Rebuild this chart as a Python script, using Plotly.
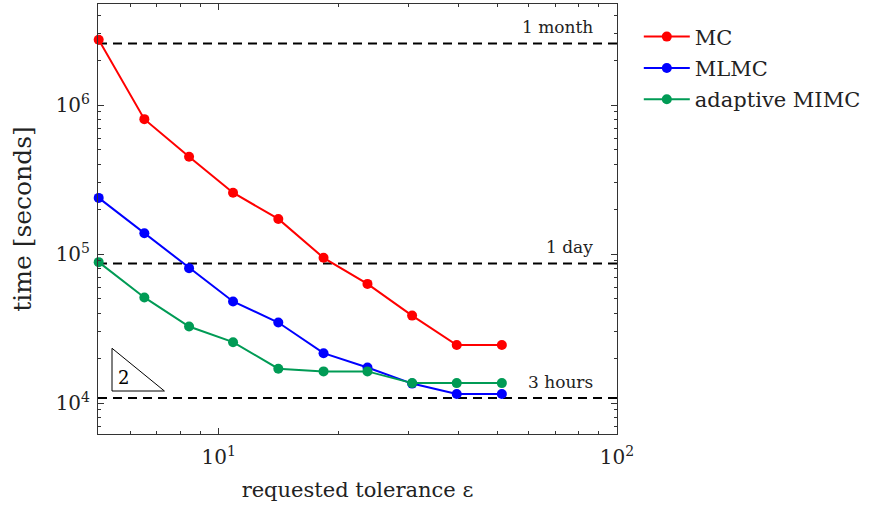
import math
import plotly.graph_objects as go

# ---- data ----
tolerance = [5.0, 6.51, 8.43, 10.87, 14.12, 18.34, 23.64, 30.6, 39.6, 51.4]
time_mc = [2.74e6, 8.04e5, 4.49e5, 2.58e5, 1.72e5, 9.43e4, 6.30e4, 3.86e4, 2.45e4, 2.45e4]
time_mlmc = [2.38e5, 1.38e5, 8.04e4, 4.80e4, 3.47e4, 2.16e4, 1.73e4, 1.35e4, 1.15e4, 1.15e4]
time_mimc = [8.82e4, 5.11e4, 3.26e4, 2.56e4, 1.70e4, 1.63e4, 1.63e4, 1.36e4, 1.36e4, 1.36e4]

series_names = ["MC", "MLMC", "adaptive MIMC"]
series_colors = ["#ff0000", "#0000ff", "#009b55"]

threshold_values = [2592000, 86400, 10800]
threshold_labels = ["1 month", "1 day", "3 hours"]

triangle_x = [5.40, 5.40, 7.31, 5.40]
triangle_y = [2.33e4, 1.204e4, 1.204e4, 2.33e4]
triangle_label = "2"
triangle_label_x = [5.78]
triangle_label_y = [1.43e4]

x_tickvals = [10, 100]
x_ticktext = ["10<sup>1</sup>", "10<sup>2</sup>"]
y_tickvals = [1e4, 1e5, 1e6]
y_ticktext = ["10<sup>4</sup>", "10<sup>5</sup>", "10<sup>6</sup>"]

FONT = "DejaVu Serif"

fig = go.Figure()
for name, color, vals in zip(series_names, series_colors, [time_mc, time_mlmc, time_mimc]):
    fig.add_trace(go.Scatter(
        x=tolerance, y=vals, name=name, mode="lines+markers",
        line=dict(color=color, width=2),
        marker=dict(color=color, size=10, symbol="circle"),
        cliponaxis=False, legendgroup=name,
    ))

fig.add_trace(go.Scatter(
    x=triangle_x, y=triangle_y, mode="lines",
    line=dict(color="black", width=1), showlegend=False, hoverinfo="skip",
))
fig.add_trace(go.Scatter(
    x=triangle_label_x, y=triangle_label_y, mode="text", text=[triangle_label],
    textfont=dict(family=FONT, size=18, color="black"), showlegend=False,
))

for val, lab in zip(threshold_values, threshold_labels):
    fig.add_shape(type="line", xref="paper", x0=0, x1=1, yref="y", y0=val, y1=val,
                  line=dict(color="black", width=2, dash="9px,6px"), layer="below")
    fig.add_annotation(xref="paper", x=0.9576, xanchor="right", yref="y",
                       y=math.log10(val), yanchor="middle", yshift=16,
                       text=lab, showarrow=False,
                       font=dict(family=FONT, size=17, color="#222"))

def minor_vals(lo, hi):
    return [m * 10 ** e for e in range(lo, hi) for m in range(2, 10)]

axis_common = dict(
    type="log", showgrid=False, zeroline=False, showline=True,
    linecolor="#333", linewidth=1, mirror="allticks",
    ticks="inside", ticklen=6, tickwidth=1, tickcolor="#333",
    tickfont=dict(family=FONT, size=20, color="#222"),
)

fig.update_xaxes(
    **axis_common, range=[math.log10(4.98), 2],
    tickmode="array", tickvals=x_tickvals, ticktext=x_ticktext,
    ticklabelstandoff=5,
    minor=dict(ticks="inside", ticklen=3, tickcolor="#333", tickmode="array",
               tickvals=minor_vals(0, 2), showgrid=False),
    title=dict(text="requested tolerance ε", font=dict(family=FONT, size=21, color="#222"),
               standoff=14),
)
fig.update_yaxes(
    **axis_common, range=[3.792, 6.678],
    tickmode="array", tickvals=y_tickvals, ticktext=y_ticktext,
    ticklabelstandoff=3,
    minor=dict(ticks="inside", ticklen=3, tickcolor="#333", tickmode="array",
               tickvals=minor_vals(3, 7), showgrid=False),
    title=dict(text="time [seconds]", font=dict(family=FONT, size=25, color="#222"),
               standoff=16),
)

fig.update_layout(
    width=876, height=507,
    margin=dict(l=98, r=259, t=4, b=73),
    paper_bgcolor="white", plot_bgcolor="white",
    showlegend=True,
    legend=dict(x=1.042, y=0.971, xanchor="left", yanchor="top",
                font=dict(family=FONT, size=21, color="#222"),
                bgcolor="rgba(0,0,0,0)", borderwidth=0,
                traceorder="grouped", tracegroupgap=1, itemwidth=46),
)

fig.write_html("out.html", config={"displayModeBar": False},
               post_script="document.body.style.margin='0';")
